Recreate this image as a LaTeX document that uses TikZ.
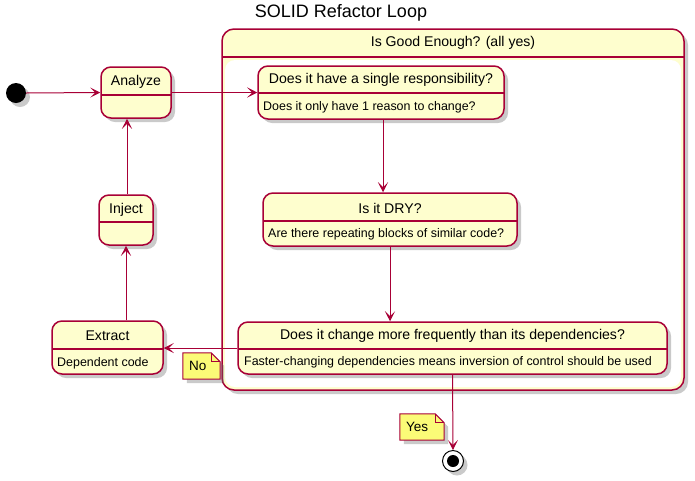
\documentclass[tikz,border=0pt]{standalone}
\usepackage{fontspec}
\setmainfont{Liberation Sans}
\usetikzlibrary{arrows.meta,shadows}
\definecolor{bd}{HTML}{A80036}
\definecolor{st}{HTML}{FEFECE}
\definecolor{nt}{HTML}{FBFB77}
\tikzset{
  shd/.style={drop shadow={shadow xshift=4pt,shadow yshift=-4pt,opacity=0.35,fill=black!60}},
  statebox/.style={draw=bd,fill=st,line width=1.5pt,rounded corners=10pt,shd,inner sep=0pt},
  divline/.style={draw=bd,line width=1.5pt},
  arr/.style={draw=bd,line width=1pt,-{Stealth[length=10pt,width=10pt,inset=5pt]}},
  ttl/.style={font=\fontsize{14.1}{16}\selectfont,inner sep=0pt},
  sub/.style={font=\fontsize{12.45}{14}\selectfont,inner sep=0pt,anchor=west},
  notebox/.style={inner sep=0pt,font=\fontsize{13.5}{15}\selectfont},
}
\begin{document}
\begin{tikzpicture}[x=1pt,y=-1pt]
\useasboundingbox (0,0) rectangle (695,480);
% title
\node[inner sep=0pt,font=\fontsize{18}{20}\selectfont] (title) at (341,13) {SOLID Refactor Loop};

% container
\node[draw=bd,fill=st,line width=1.5pt,rounded corners=12pt,shd,minimum width=462pt,minimum height=361pt,inner sep=0pt] (cont) at (453,209.5) {};
\fill[white,rounded corners=10pt] (225,60) rectangle (681,387);
\draw[divline] (222,57) -- (684,57);
\node[ttl] (conttitle) at (453,43) {Is Good Enough? (all yes)};

% start / end
\node[circle,fill=black,minimum size=20pt,inner sep=0pt,shd] (start) at (16,93) {};
\node[circle,draw=black,fill=white,line width=1pt,minimum size=21pt,inner sep=0pt,shd] (end) at (453,461) {};
\node[circle,fill=black,minimum size=12pt,inner sep=0pt] (endin) at (453,461) {};

% Analyze
\node[statebox,minimum width=70pt,minimum height=51pt] (analyze) at (136,92.5) {};
\draw[divline] (101,95) -- (171,95);
\node[ttl] (analyzet) at (136,82) {Analyze};

% Inject
\node[statebox,minimum width=54pt,minimum height=50pt] (inject) at (126,220) {};
\draw[divline] (99,222) -- (153,222);
\node[ttl] (injectt) at (126,210) {Inject};

% Extract
\node[statebox,minimum width=111pt,minimum height=53pt] (extract) at (107.5,347.5) {};
\draw[divline] (52,349) -- (163,349);
\node[ttl] (extractt) at (107.5,336) {Extract};
\node[sub] (extracts) at (57,363) {Dependent code};

% SRP
\node[statebox,minimum width=246pt,minimum height=53pt] (srp) at (381,92.5) {};
\draw[divline] (258,93) -- (504,93);
\node[ttl] (srpt) at (381,80) {Does it have a single responsibility?};
\node[sub] (srps) at (263,107) {Does it only have 1 reason to change?};

% DRY
\node[statebox,minimum width=254pt,minimum height=53pt] (dry) at (390,219.5) {};
\draw[divline] (263,221) -- (517,221);
\node[ttl] (dryt) at (390,208) {Is it DRY?};
\node[sub] (drys) at (268,234) {Are there repeating blocks of similar code?};

% Change
\node[statebox,minimum width=429pt,minimum height=52pt] (change) at (452.5,348) {};
\draw[divline] (238,349) -- (667,349);
\node[ttl] (changet) at (452.5,336) {Does it change more frequently than its dependencies?};
\node[sub] (changes) at (244,362) {Faster-changing dependencies means inversion of control should be used};

% connectors
\draw[arr] (start.east) -- (analyze.west);
\draw[arr] (analyze.east) -- (analyze.east -| srp.west);
\draw[arr] ([xshift=2pt]srp.south) -- ([xshift=2pt]srp.south |- dry.north);
\draw[arr] (dry.south) -- (dry.south |- change.north);
\draw[arr] (change.west) -- (change.west -| extract.east);
\draw[arr] (inject.south |- extract.north) -- (inject.south);
\draw[arr] ([xshift=1pt]inject.north) -- ([xshift=1pt]inject.north |- analyze.south);
\draw[arr] (change.south) -- (end.north);

% notes
\node[notebox,minimum width=37pt,minimum height=26pt] (no) at (201.5,366) {};
\filldraw[draw=bd,fill=nt,line width=1pt,shd] (no.north west) -- ([xshift=-9pt]no.north east) -- ([yshift=-9pt]no.north east) -- (no.south east) -- (no.south west) -- cycle;
\draw[bd,line width=1pt] ([xshift=-9pt]no.north east) -- ([xshift=-9pt,yshift=-9pt]no.north east) -- ([yshift=-9pt]no.north east);
\node[notebox,anchor=west] (notext) at ([xshift=6pt]no.west) {No};

\node[notebox,minimum width=44pt,minimum height=26pt] (yes) at (422,427) {};
\filldraw[draw=bd,fill=nt,line width=1pt,shd] (yes.north west) -- ([xshift=-9pt]yes.north east) -- ([yshift=-9pt]yes.north east) -- (yes.south east) -- (yes.south west) -- cycle;
\draw[bd,line width=1pt] ([xshift=-9pt]yes.north east) -- ([xshift=-9pt,yshift=-9pt]yes.north east) -- ([yshift=-9pt]yes.north east);
\node[notebox,anchor=west] (yestext) at ([xshift=6pt]yes.west) {Yes};
\end{tikzpicture}
\end{document}
